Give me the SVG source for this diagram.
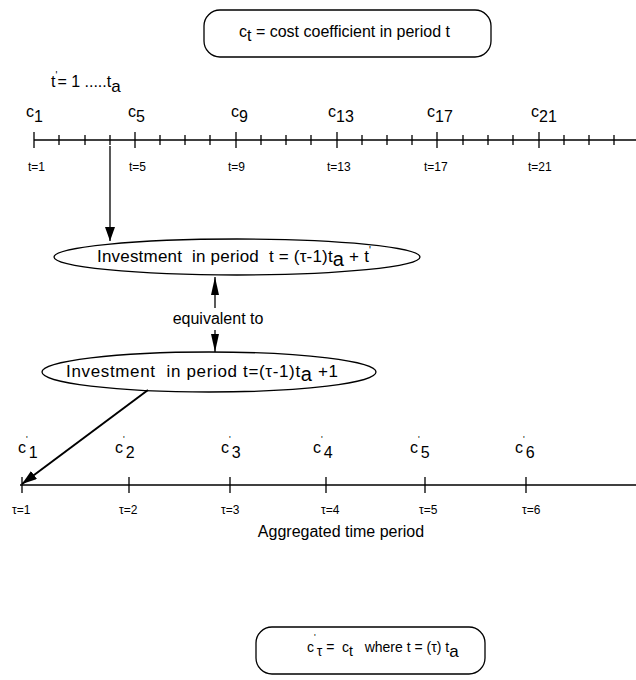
<svg xmlns="http://www.w3.org/2000/svg" width="636" height="680" viewBox="0 0 636 680">
<defs>
<marker id="ah" viewBox="0 0 14 10" refX="14" refY="5" markerWidth="14" markerHeight="10" markerUnits="userSpaceOnUse" orient="auto">
<path d="M0,0 L14,5 L0,10 Z" fill="#000"/>
</marker>
<marker id="ahn" viewBox="0 0 18 8" refX="18" refY="4" markerWidth="18" markerHeight="8" markerUnits="userSpaceOnUse" orient="auto">
<path d="M0,0 L18,4 L0,8 Z" fill="#000"/>
</marker>
<marker id="ahb" viewBox="0 0 15 10" refX="15" refY="5" markerWidth="15" markerHeight="10" markerUnits="userSpaceOnUse" orient="auto">
<path d="M0,0 L15,5 L0,10 Z" fill="#000"/>
</marker>
</defs>
<style>
text{font-family:"Liberation Sans",Arial,sans-serif;fill:#000}
.m{font-size:16px}
.e{font-size:17px}
.c{font-size:16px}
.s{font-size:12px}
.l{fill:none;stroke:#000;stroke-width:1.3}
.tk{stroke:#000;stroke-width:1.3}
</style>
<rect width="636" height="680" fill="#fff"/>

<g id="box-top">
<rect class="l" x="204" y="10" width="287" height="47" rx="16"/>
<text class="m" x="239" y="37">c<tspan dy="4">t</tspan><tspan dy="-4"> = cost coefficient in period t</tspan></text>
</g>

<g id="tprime-label">
<text class="c" x="51" y="87">t<tspan font-size="10" dy="-8">'</tspan><tspan dy="8">= 1 .....t</tspan><tspan dy="5" font-size="17">a</tspan></text>
</g>

<g id="timeline-top">
<line class="tk" x1="34" y1="140" x2="636" y2="140"/>
<path class="tk" fill="none" d="M34,132V148 M135,132V148 M236,132V148 M337,132V148 M437,132V148 M539,132V148
M59,135V145 M85,135V145 M110,135V145 M160,135V145 M185,135V145 M210,135V145 M261,135V145 M286,135V145 M311,135V145 M362,135V145 M387,135V145 M412,135V145 M463,135V145 M488,135V145 M513,135V145 M564,135V145 M589,135V145 M614,135V145"/>
<text class="c" x="26" y="117">c<tspan dy="5">1</tspan></text>
<text class="c" x="128" y="117">c<tspan dy="5">5</tspan></text>
<text class="c" x="231" y="117">c<tspan dy="5">9</tspan></text>
<text class="c" x="328" y="117">c<tspan dy="5">13</tspan></text>
<text class="c" x="427" y="117">c<tspan dy="5">17</tspan></text>
<text class="c" x="531" y="117">c<tspan dy="5">21</tspan></text>
<text class="s" x="28" y="171">t=1</text>
<text class="s" x="129" y="171">t=5</text>
<text class="s" x="228" y="171">t=9</text>
<text class="s" x="327" y="171">t=13</text>
<text class="s" x="424" y="171">t=17</text>
<text class="s" x="528" y="171">t=21</text>
</g>

<g id="ellipse-1">
<ellipse class="l" cx="237" cy="257" rx="183" ry="18"/>
<text class="e" x="97" y="262" xml:space="preserve" textLength="274" lengthAdjust="spacing">Investment  in period  t = (τ-1)t<tspan dy="4" font-size="20">a</tspan><tspan dy="-4"> + t</tspan><tspan dy="-8" font-size="10">'</tspan></text>
</g>

<g id="equiv-label">
<text class="m" x="218" y="324" text-anchor="middle">equivalent to</text>
</g>

<g id="ellipse-2">
<ellipse class="l" cx="209" cy="372" rx="167" ry="20"/>
<text class="e" x="66" y="377" xml:space="preserve" textLength="272" lengthAdjust="spacing">Investment  in period t=(τ-1)t<tspan dy="4" font-size="20">a</tspan><tspan dy="-4"> +1</tspan></text>
</g>

<g id="timeline-bottom">
<line class="tk" x1="20" y1="485" x2="636" y2="485"/>
<path class="tk" fill="none" d="M22,477V493 M129,477V493 M230,477V493 M326,477V493 M425,477V493 M526,477V493"/>
<text class="c" x="18" y="453">c<tspan font-size="9" dy="-11">'</tspan><tspan dy="16" dx="1">1</tspan></text>
<text class="c" x="115" y="453">c<tspan font-size="9" dy="-11">'</tspan><tspan dy="16" dx="1">2</tspan></text>
<text class="c" x="221" y="453">c<tspan font-size="9" dy="-11">'</tspan><tspan dy="16" dx="1">3</tspan></text>
<text class="c" x="313" y="453">c<tspan font-size="9" dy="-11">'</tspan><tspan dy="16" dx="1">4</tspan></text>
<text class="c" x="410" y="453">c<tspan font-size="9" dy="-11">'</tspan><tspan dy="16" dx="1">5</tspan></text>
<text class="c" x="515" y="453">c<tspan font-size="9" dy="-11">'</tspan><tspan dy="16" dx="1">6</tspan></text>
<text class="s" x="12" y="514">τ=1</text>
<text class="s" x="119" y="514">τ=2</text>
<text class="s" x="221" y="514">τ=3</text>
<text class="s" x="321" y="514">τ=4</text>
<text class="s" x="419" y="514">τ=5</text>
<text class="s" x="522" y="514">τ=6</text>
<text class="m" x="341" y="537" text-anchor="middle">Aggregated time period</text>
</g>

<g id="box-bottom">
<rect class="l" x="256" y="627" width="229" height="47" rx="16"/>
<text x="307" y="652" font-size="14" xml:space="preserve">c<tspan font-size="9" dy="-12">'</tspan><tspan dy="16" dx="1">τ</tspan><tspan dy="-4"> =  c</tspan><tspan dy="4">t</tspan><tspan dy="-4">   where t = (τ) t</tspan><tspan dy="5" font-size="17">a</tspan></text>
</g>

<g id="connectors">
<line class="l" x1="110" y1="146" x2="110" y2="241" marker-end="url(#ah)"/>
<line class="l" x1="215" y1="308" x2="215" y2="277" marker-end="url(#ahn)"/>
<line class="l" x1="215" y1="330" x2="215" y2="352" marker-end="url(#ahn)"/>
<line x1="148" y1="390" x2="22" y2="484" stroke="#000" stroke-width="2" marker-end="url(#ahb)"/>
</g>
</svg>
